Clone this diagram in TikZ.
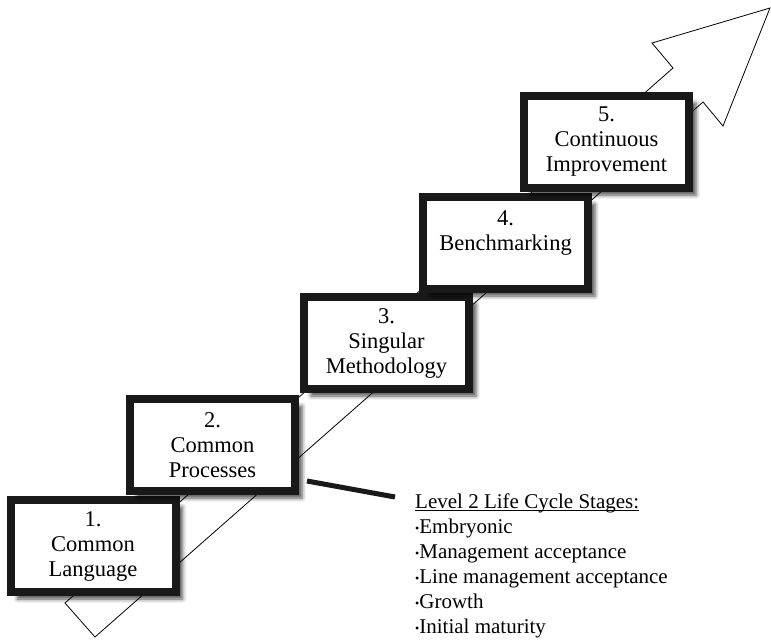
\documentclass[tikz,border=0pt]{standalone}
\usepackage{fontspec}
\setmainfont{Liberation Serif}
\usetikzlibrary{shadows.blur}

\newcommand{\stagebul}{\raisebox{1.5pt}{\fontsize{12}{12}\selectfont\textbullet}}
\newcommand{\stageul}[1]{\setbox0\hbox{#1}\rlap{\rule[-2.5pt]{\wd0}{1.1pt}}\box0}

\begin{document}
\begin{tikzpicture}[x=1pt, y=-1pt,
    stage/.style={draw=black!90, fill=white, line width=8pt, minimum width=165pt, minimum height=92pt,
      inner sep=0pt, align=center, font=\fontsize{22.5}{25}\selectfont,
      blur shadow={shadow xshift=7pt, shadow yshift=-7pt, shadow blur radius=4pt, shadow opacity=70}},
    leader/.style={line width=5pt, draw=black!90},
    bigarrow/.style={line width=0.8pt}]
	\useasboundingbox (0,0) rectangle (771,641);

	% rising arrow behind the steps
	\draw[bigarrow] (65,603) -- (673,68) -- (652,43) -- (770,8) -- (723,126) -- (703,102) -- (95,637) -- cycle;

	\node[stage] (language) at (93,546) {1.\\Common\\Language};
	\node[stage] (processes) at (212.5,445) {2.\\Common\\Processes};
	\node[stage] (method) at (386.5,343) {3.\\Singular\\Methodology};
	\node[stage] (bench) at (505.5,243) {4.\\Benchmarking\\\mbox{}};
	\node[stage] (improve) at (606.5,142) {5.\\Continuous\\Improvement};

	\node[anchor=north west, inner sep=0pt, align=left, font=\fontsize{21}{25}\selectfont] (stages) at (415,494)
		{\stageul{Level 2 Life Cycle Stages:}\\
		 \stagebul Embryonic\\
		 \stagebul Management acceptance\\
		 \stagebul Line management acceptance\\
		 \stagebul Growth\\
		 \stagebul Initial maturity};
	\draw[leader] ([shift={(8,-14)}]processes.south east) -- ([shift={(-20,3)}]stages.north west);
\end{tikzpicture}
\end{document}
